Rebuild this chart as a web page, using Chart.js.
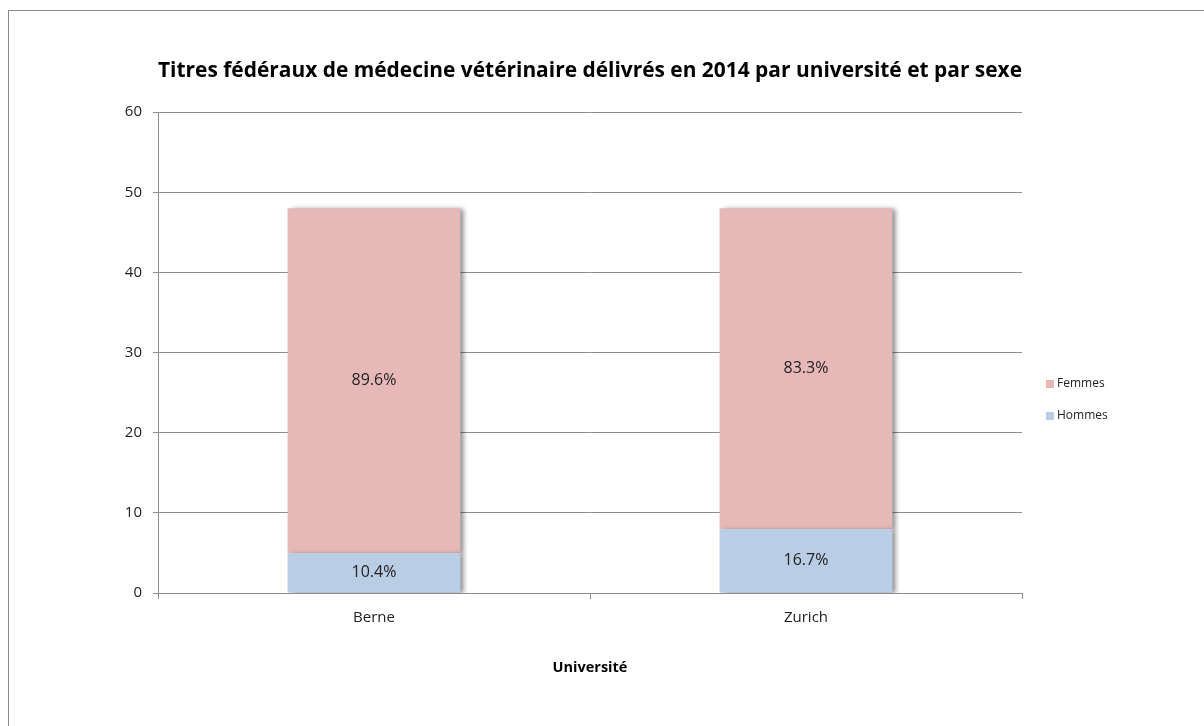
<!DOCTYPE html>
<html>
<head>
<meta charset="utf-8">
<script src="https://cdn.jsdelivr.net/npm/chart.js@4"></script>
<style>
  body { margin: 0; background: #fff; }
  #wrap { position: relative; width: 1204px; height: 726px; }
  #frame { position: absolute; left: 8px; top: 10px; right: 0; bottom: 0;
           border-top: 1px solid #8a8a8a; border-left: 1px solid #8a8a8a; }
  canvas { position: absolute; left: 0; top: 0; }
</style>
</head>
<body>
<div id="wrap">
  <div id="frame"></div>
  <canvas id="chart" width="1204" height="726"></canvas>
</div>
<script>
  const universities = ['Berne', 'Zurich'];
  const femmes = [43, 40];
  const hommes = [5, 8];
  const yTicks = [0, 10, 20, 30, 40, 50, 60];

  const FONT = "'Open Sans', sans-serif";
  const LINE = '#8c8c8c';

  // bar shadow on the right, like the spreadsheet export
  const shadowPlugin = {
    id: 'shadow',
    beforeDatasetsDraw(chart) {
      const ctx = chart.ctx;
      ctx.save();
      ctx.shadowColor = 'rgba(0,0,0,0.45)';
      ctx.shadowBlur = 5;
      ctx.shadowOffsetX = 4;
      ctx.shadowOffsetY = 1;
    },
    afterDatasetsDraw(chart) {
      chart.ctx.restore();
    }
  };

  // percentage inside each segment
  const labelPlugin = {
    id: 'segLabels',
    afterDatasetsDraw(chart) {
      const ctx = chart.ctx;
      ctx.save();
      ctx.font = '16px ' + FONT;
      ctx.fillStyle = '#222';
      ctx.textAlign = 'center';
      ctx.textBaseline = 'middle';
      chart.data.datasets.forEach((ds, di) => {
        const meta = chart.getDatasetMeta(di);
        meta.data.forEach((bar, i) => {
          const total = femmes[i] + hommes[i];
          const pct = (ds.data[i] / total * 100).toFixed(1) + '%';
          const mid = (bar.y + bar.base) / 2;
          ctx.fillText(pct, bar.x, mid);
        });
      });
      ctx.restore();
    }
  };

  // legend on the right, Femmes on top
  const legendPlugin = {
    id: 'sideLegend',
    afterDraw(chart) {
      const ctx = chart.ctx;
      ctx.save();
      ctx.font = '12px ' + FONT;
      ctx.textBaseline = 'middle';
      const items = chart.data.datasets.slice().reverse();
      items.forEach((ds, k) => {
        const y = 384 + k * 32;
        ctx.fillStyle = ds.backgroundColor;
        ctx.fillRect(1046, y - 4, 8, 8);
        ctx.fillStyle = '#222';
        ctx.fillText(ds.label, 1057, y);
      });
      ctx.restore();
    }
  };

  new Chart(document.getElementById('chart').getContext('2d'), {
    type: 'bar',
    data: {
      labels: universities,
      datasets: [
        { label: 'Hommes', data: hommes, backgroundColor: '#b9cde5' },
        { label: 'Femmes', data: femmes, backgroundColor: '#e6b8b7' }
      ]
    },
    options: {
      responsive: false,
      animation: false,
      layout: { padding: { top: 10, right: 182, left: 0, bottom: 0 } },
      datasets: { bar: { barPercentage: 0.4, categoryPercentage: 1 } },
      plugins: {
        legend: { display: false },
        tooltip: { enabled: false },
        title: {
          display: true,
          text: 'Titres fédéraux de médecine vétérinaire délivrés en 2014 par université et par sexe',
          color: '#000',
          fullSize: false,
          font: { family: FONT, size: 21, weight: 'bold' },
          padding: { top: 48, bottom: 29 }
        }
      },
      scales: {
        x: {
          stacked: true,
          offset: true,
          grid: { offset: true, drawOnChartArea: false, color: LINE, tickLength: 6 },
          border: { color: LINE },
          ticks: { color: '#222', font: { family: FONT, size: 15 }, padding: 10 },
          title: {
            display: true, text: 'Université', color: '#000',
            font: { family: FONT, size: 14.5, weight: 'bold' },
            padding: { top: 30, bottom: 49 }
          },
          afterFit(scale) { scale.height = 133; }
        },
        y: {
          stacked: true,
          min: 0, max: 60,
          afterBuildTicks(scale) { scale.ticks = yTicks.map(v => ({ value: v })); },
          grid: { color: LINE, tickLength: 5 },
          border: { color: LINE },
          ticks: { color: '#222', font: { family: FONT, size: 15 }, padding: 11 },
          afterFit(scale) { scale.width = 158; }
        }
      }
    },
    plugins: [shadowPlugin, labelPlugin, legendPlugin]
  });
</script>
</body>
</html>
